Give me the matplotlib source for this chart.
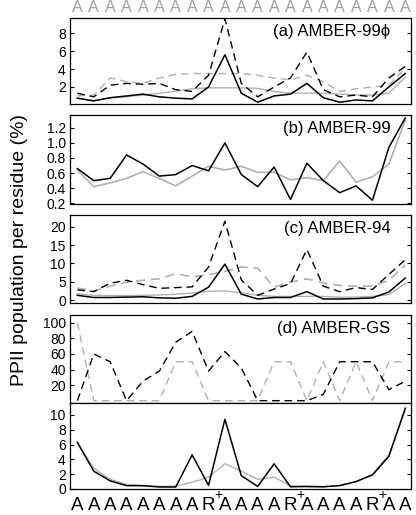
import numpy as np
import matplotlib
matplotlib.use("Agg")
import matplotlib.pyplot as plt

plt.rcParams['font.family'] = ['Liberation Sans', 'DejaVu Sans']
plt.rcParams['mathtext.default'] = 'regular'

res = np.arange(1, 22)
top_labels = ['A'] * 21
bottom_labels = ['A'] * 8 + ['R'] + ['A'] * 4 + ['R'] + ['A'] * 4 + ['R'] + ['A'] * 2
charged = [9, 14, 19]

# (a) AMBER-99phi
a_blk = [0.75, 0.45, 0.8, 1.0, 1.2, 0.9, 0.75, 0.67, 2.0, 5.6, 1.3, 0.3, 1.0, 1.2, 2.4, 0.8, 0.3, 0.55, 0.45, 2.0, 3.5]
a_blk_d = [1.3, 0.9, 2.2, 2.4, 2.3, 2.4, 1.7, 1.5, 3.3, 9.6, 2.4, 0.9, 2.0, 3.0, 5.9, 1.7, 0.9, 1.1, 0.9, 3.0, 4.3]
a_gry_d = [1.0, 1.1, 3.0, 2.6, 2.4, 3.0, 3.4, 3.5, 3.5, 3.5, 3.5, 3.3, 3.0, 2.8, 3.3, 2.6, 1.5, 1.8, 2.0, 2.2, 4.1]
a_gry = [0.74, 0.45, 0.8, 0.9, 1.1, 1.3, 1.55, 1.8, 1.9, 1.9, 1.9, 1.85, 1.5, 1.3, 1.3, 1.3, 1.2, 1.1, 1.1, 1.3, 3.1]

# (b) AMBER-99
b_blk = [0.66, 0.5, 0.53, 0.84, 0.72, 0.56, 0.58, 0.70, 0.63, 1.0, 0.58, 0.42, 0.68, 0.25, 0.73, 0.5, 0.34, 0.43, 0.24, 0.94, 1.33]
b_gry = [0.64, 0.42, 0.47, 0.53, 0.62, 0.53, 0.43, 0.56, 0.69, 0.64, 0.69, 0.61, 0.61, 0.51, 0.54, 0.5, 0.76, 0.48, 0.55, 0.72, 1.3]

# (c) AMBER-94
c_blk = [1.3, 0.7, 0.7, 0.8, 0.9, 0.6, 0.5, 1.0, 3.5, 9.8, 1.6, 0.3, 0.7, 0.7, 2.3, 0.3, 0.3, 0.4, 0.6, 2.2, 6.0]
c_blk_d = [2.8, 2.3, 4.6, 5.4, 4.2, 3.2, 3.4, 3.6, 9.0, 21.5, 5.5, 1.3, 3.0, 4.5, 13.8, 3.8, 2.3, 3.4, 2.9, 7.0, 11.0]
c_gry_d = [3.3, 2.5, 3.8, 4.9, 5.4, 5.8, 7.2, 6.3, 6.9, 7.8, 9.0, 8.7, 3.5, 4.9, 5.8, 4.7, 4.0, 3.8, 3.8, 5.4, 9.5]
c_gry = [1.7, 1.3, 1.2, 1.2, 1.3, 1.4, 1.6, 1.9, 2.4, 2.5, 2.0, 1.3, 1.0, 1.0, 1.0, 1.0, 0.8, 0.8, 1.0, 1.5, 4.5]

# (d) AMBER-GS
d_blk_d = [0, 60, 50, 0, 25, 38, 75, 89, 38, 63, 42, 0, 0, 0, 0, 8, 50, 50, 50, 14, 25]
d_gry_d = [100, 0, 0, 0, 0, 0, 50, 50, 0, 0, 0, 0, 50, 50, 0, 50, 0, 50, 0, 50, 50]

# (e)
e_blk = [6.3, 2.4, 1.1, 0.45, 0.45, 0.27, 0.27, 4.6, 0.5, 9.4, 1.8, 0.35, 3.4, 0.3, 0.35, 0.3, 0.45, 1.0, 1.9, 4.4, 10.9]
e_gry = [6.1, 2.8, 1.3, 0.6, 0.45, 0.35, 0.4, 0.9, 1.6, 3.4, 2.4, 1.3, 1.6, 0.4, 0.3, 0.3, 0.5, 1.0, 2.0, 4.6, 10.6]

GRAY = '#b0b0b0'
DASH = (0, (5.5, 3.5))

fig = plt.figure(figsize=(4.16, 5.15), dpi=100)
left, width = 70 / 416, 341 / 416
bounds = [(18, 104), (115, 204), (215, 303), (315, 403), (403, 489)]
axes = []
for top, bot in bounds:
    axes.append(fig.add_axes([left, 1 - bot / 515, width, (bot - top) / 515]))
ax_a, ax_b, ax_c, ax_d, ax_e = axes

ax_a.plot(res, a_gry, color=GRAY, lw=1.0)
ax_a.plot(res, a_gry_d, color=GRAY, lw=1.0, linestyle=DASH)
ax_a.plot(res, a_blk_d, color='black', lw=1.0, linestyle=DASH)
ax_a.plot(res, a_blk, color='black', lw=1.1)
ax_a.set_ylim(0.1, 9.7)
ax_a.set_yticks([2, 4, 6, 8])

ax_b.plot(res, b_gry, color=GRAY, lw=1.2)
ax_b.plot(res, b_blk, color='black', lw=1.1)
ax_b.set_ylim(0.19, 1.37)
ax_b.set_yticks([0.2, 0.4, 0.6, 0.8, 1.0, 1.2])
ax_b.set_yticklabels(['0.2', '0.4', '0.6', '0.8', '1.0', '1.2'])

ax_c.plot(res, c_gry, color=GRAY, lw=1.0)
ax_c.plot(res, c_gry_d, color=GRAY, lw=1.2, linestyle=DASH)
ax_c.plot(res, c_blk_d, color='black', lw=1.0, linestyle=DASH)
ax_c.plot(res, c_blk, color='black', lw=1.1)
ax_c.set_ylim(-0.8, 23.2)
ax_c.set_yticks([0, 5, 10, 15, 20])

ax_d.plot(res, d_gry_d, color=GRAY, lw=1.0, linestyle=DASH)
ax_d.plot(res, d_blk_d, color='black', lw=1.0, linestyle=DASH)
ax_d.set_ylim(-3, 110)
ax_d.set_yticks([20, 40, 60, 80, 100])

ax_e.plot(res, e_gry, color=GRAY, lw=1.0)
ax_e.plot(res, e_blk, color='black', lw=1.1)
ax_e.set_ylim(0, 11.6)
ax_e.set_yticks([0, 2, 4, 6, 8, 10])

titles = ['(a) AMBER-99\u03d5', '(b) AMBER-99', '(c) AMBER-94', '(d) AMBER-GS']
for ax, t in zip(axes[:4], titles):
    ax.text(0.94, 0.93, t, transform=ax.transAxes, ha='right', va='top', fontsize=12)

for ax in axes:
    ax.set_xlim(0.55, 21.35)
    ax.set_xticks([5, 10, 15, 20], minor=True)
    ax.set_xticks(res)
    ax.tick_params(axis='x', which='major', length=0, labelbottom=False)
    ax.tick_params(axis='x', which='minor', direction='in', length=3, top=True, bottom=True)
    ax.tick_params(axis='y', direction='in', length=3, right=True, labelsize=10, pad=3)
    for s in ax.spines.values():
        s.set_linewidth(0.9)

ax_e.set_xticklabels(bottom_labels)
ax_e.tick_params(axis='x', which='major', labelbottom=True, labelsize=13.5, pad=6)
# superscript "+" on the charged residues, hanging to the right of the R
for pos in charged:
    ax_e.annotate('+', xy=(pos, 0), xycoords=('data', 'axes fraction'),
                  xytext=(4.5, -4), textcoords='offset points',
                  ha='left', va='center', fontsize=10)

ax_a.set_xticklabels(top_labels)
ax_a.tick_params(axis='x', which='major', labeltop=True, labelcolor='#a0a0a0', labelsize=11.5, pad=2)

fig.text(20 / 416, 1 - 250 / 515, 'PPII population per residue (%)', rotation=90,
         ha='center', va='center', fontsize=14)

fig.savefig('out.png', dpi=100)
